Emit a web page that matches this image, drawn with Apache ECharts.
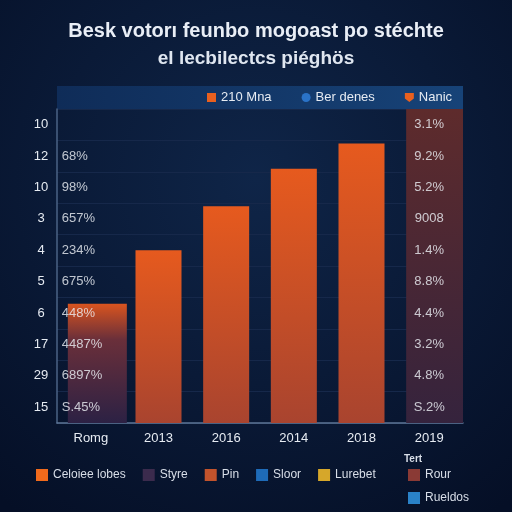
<!DOCTYPE html>
<html>
<head>
<meta charset="utf-8">
<script src="https://cdn.jsdelivr.net/npm/echarts@6/dist/echarts.min.js"></script>
<style>
  html, body { margin: 0; padding: 0; background: #081630; }
  #chart { width: 512px; height: 512px; }
</style>
</head>
<body>
<div id="chart"></div>
<script>
// 数据
const xCats = ['Romg', '2013', '2016', '2014', '2018', '2019']
const yCats = ['10', '12', '10', '3', '4', '5', '6', '17', '29', '15']
const mainVals = ['-', 5.5, 6.9, 8.1, 8.9, '-']
const romgVals = [3.8, '-', '-', '-', '-', '-']
const bandVals = ['-', '-', '-', '-', '-', 10]
const leftPct = ['', '68%', '98%', '657%', '234%', '675%', '448%', '4487%', '6897%', 'S.45%']
const rightPct = ['3.1%', '9.2%', '5.2%', '9008', '1.4%', '8.8%', '4.4%', '3.2%', '4.8%', 'S.2%']
const bottomLegend = ['Celoiee lobes', 'Styre', 'Pin', 'Sloor', 'Lurebet']
const sideLegend = ['Rour', 'Rueldos']

const font = 'Liberation Sans, Arial, sans-serif'
const myChart = echarts.init(document.getElementById('chart'))

// 空系列只用于图例
const dummy = (name, color) => ({
  name,
  type: 'line',
  data: [],
  itemStyle: { color },
  lineStyle: { color }
})

const option = {
  backgroundColor: {
    type: 'radial', x: 0.5, y: 0.35, r: 0.8,
    colorStops: [
      { offset: 0, color: '#0f2548' },
      { offset: 1, color: '#050f26' }
    ]
  },
  textStyle: { fontFamily: font },
  title: [
    {
      text: 'Besk votorı feunbo mogoast po stéchte',
      subtext: 'el lecbilectcs piéghös',
      left: 'center',
      top: 16,
      itemGap: 8,
      textStyle: { color: '#e9eef6', fontSize: 20, fontWeight: 'bold', fontFamily: font },
      subtextStyle: { color: '#dfe6f0', fontSize: 19, fontWeight: 'bold', fontFamily: font }
    },
    {
      text: 'Tert',
      left: 404,
      top: 454,
      padding: 0,
      textStyle: { color: '#d8dee8', fontSize: 10, fontWeight: 'bold', fontFamily: font }
    }
  ],
  graphic: [
    {
      type: 'rect',
      shape: { x: 57, y: 86, width: 406, height: 23 },
      style: {
        fill: {
          type: 'linear', x: 0, y: 0, x2: 1, y2: 0,
          colorStops: [
            { offset: 0, color: '#0f2c58' },
            { offset: 1, color: '#174378' }
          ]
        }
      },
      z: -1
    }
  ],
  legend: [
    {
      data: [
        { name: '210 Mna', icon: 'rect', itemStyle: { color: '#e8601f' } },
        { name: 'Ber denes', icon: 'circle', itemStyle: { color: '#2a73c8' } },
        { name: 'Nanic', icon: 'path://M0,0 L10,0 L10,6 L5,10 L0,6 Z', itemStyle: { color: '#e8601f' } }
      ],
      left: 207,
      top: 91,
      padding: 0,
      itemWidth: 9,
      itemHeight: 9,
      itemGap: 30,
      textStyle: { color: '#e6ebf2', fontSize: 13, fontFamily: font }
    },
    {
      data: bottomLegend.map((n) => n === 'Celoiee lobes'
        ? { name: n, icon: 'rect', itemStyle: { color: '#f06a1c' } }
        : { name: n, icon: 'rect' }),
      left: 36,
      top: 469,
      padding: 0,
      itemWidth: 12,
      itemHeight: 12,
      itemGap: 17,
      textStyle: { color: '#d8dee8', fontSize: 12, fontFamily: font }
    },
    {
      data: sideLegend.map((n) => ({ name: n, icon: 'rect' })),
      left: 408,
      top: 469,
      orient: 'vertical',
      padding: 0,
      itemWidth: 12,
      itemHeight: 12,
      itemGap: 11,
      textStyle: { color: '#d8dee8', fontSize: 12, fontFamily: font }
    }
  ],
  grid: { left: 57, right: 49, top: 109, bottom: 89 },
  xAxis: {
    type: 'category',
    data: xCats,
    axisLine: { lineStyle: { color: '#5d7596', width: 1.5 } },
    axisTick: { show: false },
    axisLabel: { color: '#e6ebf2', fontSize: 13, margin: 9, fontFamily: font }
  },
  yAxis: [
    {
      type: 'category',
      data: yCats,
      inverse: true,
      axisLine: { lineStyle: { color: '#4b6386', width: 1.5 } },
      axisTick: { show: false },
      axisLabel: { color: '#e6ebf2', fontSize: 13, align: 'center', margin: 16, fontFamily: font },
      splitLine: { show: true, lineStyle: { color: '#16284a' } }
    },
    {
      type: 'value',
      min: 0,
      max: 10,
      show: false,
      splitLine: { show: false }
    }
  ],
  series: [
    {
      name: 'Nanic',
      type: 'bar',
      yAxisIndex: 1,
      data: bandVals,
      barWidth: 64,
      barGap: '-100%',
      itemStyle: {
        color: {
          type: 'linear', x: 0, y: 0, x2: 0, y2: 1,
          colorStops: [
            { offset: 0, color: '#5e2b2c' },
            { offset: 1, color: '#35233d' }
          ]
        }
      },
      z: 1
    },
    {
      name: 'Celoiee lobes',
      type: 'bar',
      yAxisIndex: 1,
      data: romgVals,
      barWidth: 59,
      barGap: '-100%',
      itemStyle: {
        color: {
          type: 'linear', x: 0, y: 0, x2: 0, y2: 1,
          colorStops: [
            { offset: 0, color: '#d9541f' },
            { offset: 0.3, color: '#6a2f3a' },
            { offset: 1, color: '#2c2144' }
          ]
        }
      },
      z: 2
    },
    {
      name: '210 Mna',
      type: 'bar',
      yAxisIndex: 1,
      data: mainVals,
      barWidth: 46,
      barGap: '-100%',
      itemStyle: {
        color: {
          type: 'linear', x: 0, y: 0, x2: 0, y2: 1,
          colorStops: [
            { offset: 0, color: '#e65a1e' },
            { offset: 1, color: '#a9442f' }
          ]
        }
      },
      z: 3
    },
    // 百分比文字
    {
      type: 'scatter',
      symbolSize: 0,
      data: leftPct.map((t, i) => [0, i]).filter((d) => leftPct[d[1]] !== ''),
      label: {
        show: true,
        position: 'inside',
        align: 'left',
        offset: [-29, 0],
        color: '#eef1f6',
        fontSize: 13,
        fontFamily: font,
        formatter: (p) => leftPct[p.value[1]]
      },
      z: 5
    },
    {
      type: 'scatter',
      symbolSize: 0,
      data: rightPct.map((t, i) => [5, i]),
      label: {
        show: true,
        position: 'inside',
        color: '#eef1f6',
        fontSize: 13,
        fontFamily: font,
        formatter: (p) => rightPct[p.value[1]]
      },
      z: 5
    },
    dummy('Ber denes', '#2a73c8'),
    dummy('Styre', '#3b2b4d'),
    dummy('Pin', '#c2532c'),
    dummy('Sloor', '#1e6bb8'),
    dummy('Lurebet', '#d6a72a'),
    dummy('Rour', '#8a3a35'),
    dummy('Rueldos', '#2a82c8')
  ]
}
// 挂载配置项
myChart.setOption(option)
</script>
</body>
</html>
